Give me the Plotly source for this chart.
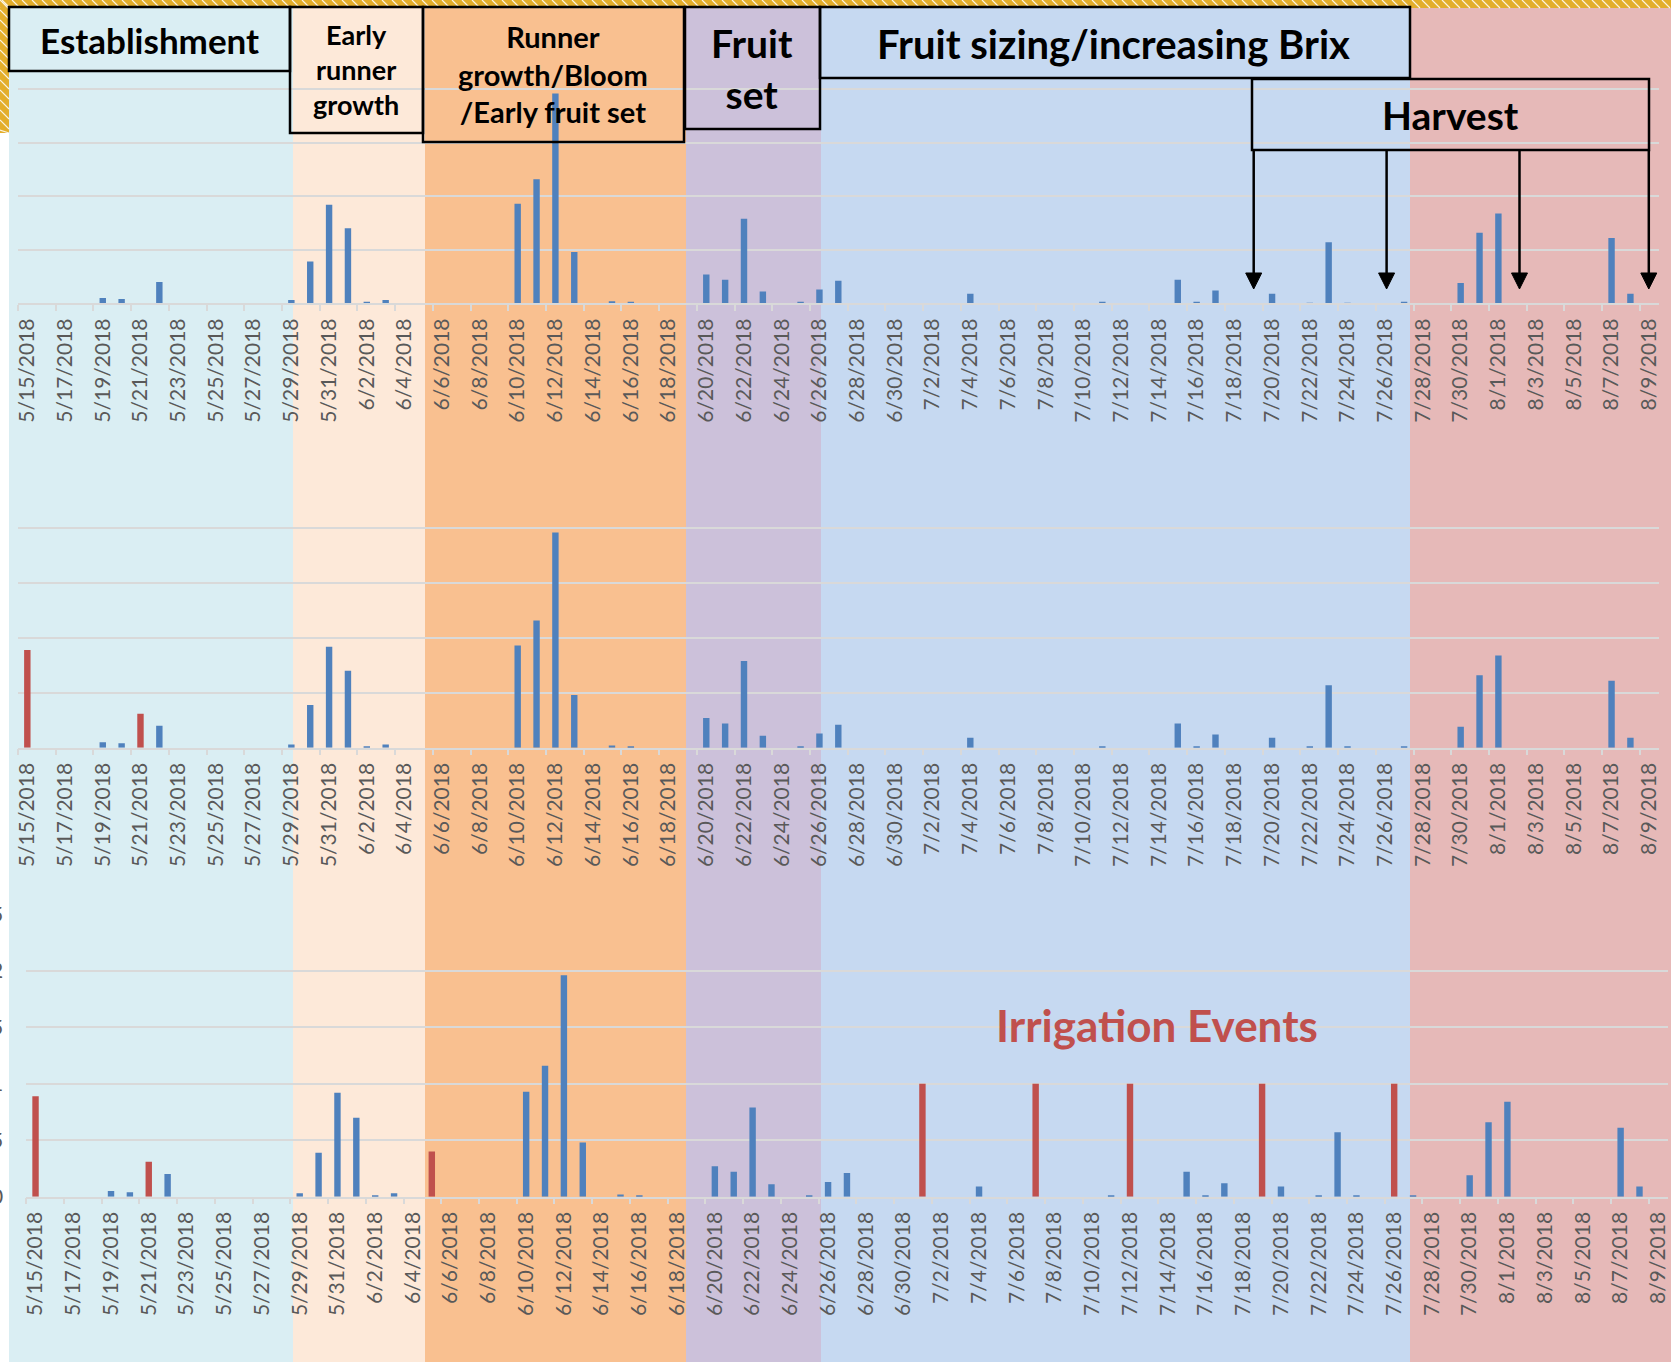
import plotly.graph_objects as go
from datetime import date, timedelta

W, H = 1671, 1362

# ---------------- data ----------------
start = date(2018, 5, 15)
dates = [f"{d.month}/{d.day}/{d.year}" for d in (start + timedelta(days=i) for i in range(87))]

rain_dates = ["5/19/2018", "5/20/2018", "5/22/2018", "5/29/2018", "5/30/2018", "5/31/2018",
              "6/1/2018", "6/2/2018", "6/3/2018", "6/10/2018", "6/11/2018", "6/12/2018",
              "6/13/2018", "6/15/2018", "6/16/2018", "6/20/2018", "6/21/2018", "6/22/2018",
              "6/23/2018", "6/25/2018", "6/26/2018", "6/27/2018", "7/4/2018", "7/11/2018",
              "7/15/2018", "7/16/2018", "7/17/2018", "7/20/2018", "7/22/2018", "7/23/2018",
              "7/24/2018", "7/27/2018", "7/30/2018", "7/31/2018", "8/1/2018", "8/7/2018",
              "8/8/2018"]
rain_values = [0.05, 0.04, 0.20, 0.03, 0.39, 0.92,
               0.70, 0.01, 0.03, 0.93, 1.16, 1.96,
               0.48, 0.02, 0.01, 0.27, 0.22, 0.79,
               0.11, 0.01, 0.13, 0.21, 0.09, 0.01,
               0.22, 0.01, 0.12, 0.09, 0.005, 0.57,
               0.005, 0.01, 0.19, 0.66, 0.84, 0.61,
               0.09]

irr2_dates = ["5/15/2018", "5/21/2018"]
irr2_values = [0.89, 0.31]

irr3_dates = ["5/15/2018", "5/21/2018", "6/5/2018", "7/1/2018", "7/7/2018",
              "7/12/2018", "7/19/2018", "7/26/2018"]
irr3_values = [0.89, 0.31, 0.40, 1.0, 1.0, 1.0, 1.0, 1.0]

y_ticks = [0, 0.5, 1, 1.5, 2, 2.5]
y_ticktext = ["0", "0.5", "1", "1.5", "2", "2.5"]

stage_labels = ["Establishment", "Early<br>runner<br>growth", "Runner<br>growth/Bloom<br>/Early fruit set",
                "Fruit<br>set", "Fruit sizing/increasing Brix", "Harvest"]

# ---------------- styling ----------------
BLUE = "#4F81BD"
RED = "#C0504D"
GRID = "#D9D9D9"
LABEL = "#595959"
FONT = "Lato"


def px(x):
    return x / W


def py(y):
    return 1 - y / H


fig = go.Figure()

bw = 0.34
fig.add_trace(go.Bar(x=rain_dates, y=rain_values, marker_color=BLUE, width=bw,
                     xaxis="x", yaxis="y", showlegend=False))
fig.add_trace(go.Bar(x=rain_dates, y=rain_values, marker_color=BLUE, width=bw,
                     xaxis="x2", yaxis="y2", showlegend=False))
fig.add_trace(go.Bar(x=irr2_dates, y=irr2_values, marker_color=RED, width=bw,
                     xaxis="x2", yaxis="y2", showlegend=False))
fig.add_trace(go.Bar(x=rain_dates, y=rain_values, marker_color=BLUE, width=bw,
                     xaxis="x3", yaxis="y3", showlegend=False))
fig.add_trace(go.Bar(x=irr3_dates, y=irr3_values, marker_color=RED, width=bw,
                     xaxis="x3", yaxis="y3", showlegend=False))
fig.update_traces(marker_line_width=0, opacity=1)

xcommon = dict(type="category", categoryorder="array", categoryarray=dates,
               range=[-0.5, 86.5], tickmode="linear", tick0=0, dtick=2,
               tickson="boundaries", ticks="outside", ticklen=6, tickwidth=1.5,
               tickcolor=GRID, showline=True, linecolor=GRID, linewidth=1.5,
               showgrid=False, zeroline=False, tickangle=-90, automargin=False,
               ticklabelstandoff=5,
               tickfont=dict(family=FONT, size=21, color=LABEL), fixedrange=True)
ycommon = dict(range=[0, 2.5], tickmode="array", tickvals=y_ticks, ticktext=y_ticktext,
               showgrid=True, gridcolor=GRID, gridwidth=1.5, zeroline=False,
               showline=False, ticks="", fixedrange=True, automargin=False,
               tickfont=dict(family=FONT, size=21, color=LABEL))

x12_dom = [px(17.9), px(1658.7)]
x3_dom = [px(26.1), px(1667.8)]

fig.update_layout(
    template="none",
    width=W, height=H, autosize=False,
    margin=dict(l=0, r=0, t=0, b=0, pad=0),
    paper_bgcolor="white", plot_bgcolor="rgba(0,0,0,0)",
    barmode="overlay", showlegend=False,
    xaxis=dict(domain=x12_dom, anchor="y", **xcommon),
    xaxis2=dict(domain=x12_dom, anchor="y2", **xcommon),
    xaxis3=dict(domain=x3_dom, anchor="y3", **xcommon),
    yaxis=dict(domain=[py(303.3), py(35.7)], anchor="x", showticklabels=False, **ycommon),
    yaxis2=dict(domain=[py(747.7), py(473.3)], anchor="x2", showticklabels=False, **ycommon),
    yaxis3=dict(domain=[py(1196.7), py(914.3)], anchor="x3", showticklabels=True,
                ticklabelstandoff=22, **ycommon),
)

shapes = []
# stage background bands
bands = [(9, 293, "#DAEEF3"), (293, 425, "#FDE9D9"), (425, 686, "#F9C090"),
         (686, 821, "#CCC1DA"), (821, 1410, "#C6D9F1"), (1410, W, "#E6B9B8")]
for x0, x1, c in bands:
    shapes.append(dict(type="rect", xref="paper", yref="paper", x0=px(x0), x1=px(x1),
                       y0=0, y1=1, fillcolor=c, line_width=0, layer="below"))

# yellow hatched slide border (top strip & left strip)
YEL = "#E3AE2B"
shapes.append(dict(type="rect", xref="paper", yref="paper", x0=0, x1=1, y0=py(8), y1=1,
                   fillcolor=YEL, line_width=0, layer="above"))
shapes.append(dict(type="rect", xref="paper", yref="paper", x0=0, x1=px(9), y0=py(133), y1=1,
                   fillcolor=YEL, line_width=0, layer="above"))
segs = []
x = -8
while x < W:
    segs.append(f"M{px(x):.5f},{py(0):.5f}L{px(x + 8):.5f},{py(8):.5f}")
    x += 10
y = 0
while y < 133:
    segs.append(f"M{px(0):.5f},{py(y):.5f}L{px(9):.5f},{py(min(y + 9, 133)):.5f}")
    y += 10
shapes.append(dict(type="path", xref="paper", yref="paper", path="".join(segs),
                   line=dict(color="rgba(255,255,255,0.85)", width=1.2), layer="above"))

# stage label boxes
boxes = [(9, 7, 290, 71), (290, 7, 423, 133), (423, 7, 684, 142),
         (685, 7, 820, 129), (820, 7, 1410, 78), (1252, 79, 1649, 150)]
for x0, y0, x1, y1 in boxes:
    shapes.append(dict(type="rect", xref="paper", yref="paper", x0=px(x0), x1=px(x1),
                       y0=py(y1), y1=py(y0), fillcolor="rgba(0,0,0,0)",
                       line=dict(color="black", width=2.5), layer="above"))

# harvest arrows
for ax in [1253.7, 1386.6, 1519.5, 1648.8]:
    shapes.append(dict(type="line", xref="paper", yref="paper", x0=px(ax), x1=px(ax),
                       y0=py(150), y1=py(276), line=dict(color="black", width=2.5), layer="above"))
    shapes.append(dict(type="path", xref="paper", yref="paper",
                       path=f"M{px(ax - 8):.5f},{py(273):.5f}L{px(ax + 8):.5f},{py(273):.5f}L{px(ax):.5f},{py(289):.5f}Z",
                       fillcolor="black", line=dict(color="black", width=1), layer="above"))

fig.update_layout(shapes=shapes)

ann_specs = [
    (stage_labels[0], 149, 40, 35),
    (stage_labels[1], 356, 70, 27),
    (stage_labels[2], 553, 73.5, 29),
    (stage_labels[3], 752, 68.7, 39),
    (stage_labels[4], 1113.6, 43.7, 40),
    (stage_labels[5], 1450, 115, 39),
]
for txt, cx, cy, sz in ann_specs:
    fig.add_annotation(text=f"<b>{txt}</b>", xref="paper", yref="paper", x=px(cx), y=py(cy),
                       xanchor="center", yanchor="middle", showarrow=False,
                       font=dict(family=FONT, size=sz, color="black"))

fig.add_annotation(text="<b>Irrigation Events</b>", xref="paper", yref="paper",
                   x=px(1157), y=py(1025), xanchor="center", yanchor="middle",
                   showarrow=False, font=dict(family=FONT, size=44, color=RED))

fig.write_html("out.html", config={"displayModeBar": False},
               post_script="document.body.style.margin='0';document.body.style.overflow='hidden';")
